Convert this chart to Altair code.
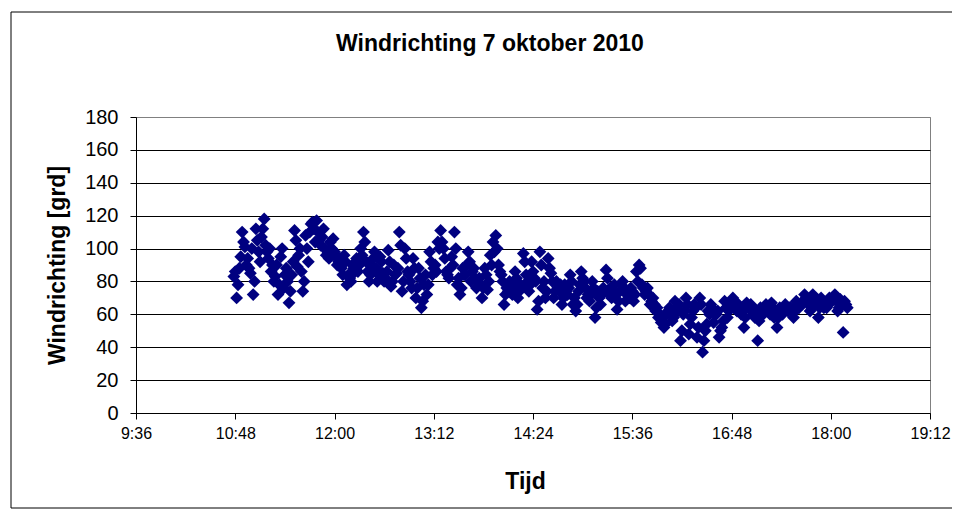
import altair as alt
import pandas as pd

title_text = "Windrichting 7 oktober 2010"
x_title = "Tijd"
y_title = "Windrichting [grd]"

# readings every minute: even series starts 10:47, odd series starts 10:48, each every 2 minutes
start_even = 10 * 60 + 47
start_odd = 10 * 60 + 48
step_minutes = 2

v_1047 = [83, 70, 88, 110, 101, 94, 85, 72, 112, 98, 107, 118, 98, 100, 90,
          83, 72, 95, 76, 88, 67, 84, 111, 89, 100, 74, 108, 92, 115, 112]
v_1147 = [117, 105, 107, 100, 98, 104, 106, 95, 92, 88, 96, 78, 82, 90, 86,
          86, 100, 110, 92, 80, 90, 98, 80, 95, 85, 82, 99, 77, 90, 85]
v_1247 = [110, 74, 100, 86, 80, 94, 70, 88, 64, 78, 72, 98, 84, 90, 104,
          111, 100, 86, 82, 95, 110, 78, 72, 88, 84, 98, 80, 88, 76, 82]
v_1347 = [70, 88, 75, 96, 104, 108, 90, 84, 66, 76, 80, 72, 86, 70, 78,
          97, 84, 74, 92, 82, 63, 98, 76, 70, 94, 85, 70, 80, 74, 66]
v_1447 = [78, 72, 84, 66, 62, 74, 86, 80, 70, 68, 80, 58, 74, 66, 76,
          87, 73, 70, 78, 63, 74, 80, 68, 72, 76, 68, 86, 90, 78, 72]
v_1547 = [76, 66, 70, 62, 58, 55, 52, 60, 64, 56, 68, 62, 44, 60, 70,
          48, 58, 66, 46, 70, 37, 50, 62, 66, 55, 60, 46, 52, 68, 58]
v_1647 = [64, 70, 63, 66, 60, 52, 67, 64, 62, 58, 44, 64, 60, 66, 62,
          67, 58, 52, 64, 60, 66, 62, 64, 58, 68, 64, 66, 72, 68, 62]
v_1747 = [72, 66, 58, 70, 64, 64, 70, 68, 72, 62, 69, 49, 66]

w_1048 = [86, 78, 95, 104, 90, 88, 100, 80, 105, 92, 112, 102, 94, 86, 80,
          90, 78, 100, 84, 80, 74, 92, 105, 96, 86, 80, 100, 110, 116, 104]
w_1148 = [110, 102, 112, 96, 94, 100, 98, 90, 94, 84, 92, 84, 80, 88, 94,
          90, 96, 104, 86, 84, 94, 88, 84, 92, 80, 86, 92, 80, 84, 88]
w_1248 = [102, 80, 94, 84, 76, 88, 76, 82, 68, 84, 78, 92, 88, 86, 100,
          104, 94, 84, 88, 90, 100, 82, 76, 84, 90, 92, 86, 82, 80, 78]
w_1348 = [76, 84, 80, 90, 98, 100, 86, 80, 72, 74, 76, 78, 82, 74, 76,
          92, 80, 78, 86, 80, 68, 90, 80, 74, 88, 80, 74, 76, 78, 70]
w_1448 = [74, 76, 80, 70, 66, 78, 82, 76, 72, 72, 76, 64, 70, 72, 74,
          82, 76, 74, 72, 68, 78, 76, 72, 70, 74, 72, 80, 88, 76, 74]
w_1548 = [72, 68, 66, 64, 60, 58, 54, 62, 60, 58, 64, 66, 50, 62, 66,
          54, 62, 64, 52, 66, 44, 54, 60, 64, 60, 62, 50, 56, 64, 62]
w_1648 = [66, 68, 62, 64, 62, 58, 64, 66, 60, 62, 56, 62, 64, 64, 60,
          64, 62, 58, 62, 62, 64, 64, 62, 62, 66, 66, 68, 70, 66, 64]
w_1748 = [70, 68, 64, 68, 66, 66, 68, 70, 68, 64, 66, 68, 64]

values_even = v_1047 + v_1147 + v_1247 + v_1347 + v_1447 + v_1547 + v_1647 + v_1747
values_odd = w_1048 + w_1148 + w_1248 + w_1348 + w_1448 + w_1548 + w_1648 + w_1748
minutes = ([start_even + step_minutes * i for i in range(len(values_even))]
           + [start_odd + step_minutes * i for i in range(len(values_odd))])
df = pd.DataFrame({"minute": minutes, "richting": values_even + values_odd})

x_ticks = [576, 648, 720, 792, 864, 936, 1008, 1080, 1152]
y_ticks = [0, 20, 40, 60, 80, 100, 120, 140, 160, 180]

label_expr = ("floor(datum.value / 60) + ':' + "
              "((datum.value % 60) < 10 ? '0' : '') + (datum.value % 60)")

FONT = "Liberation Sans"

title_df = pd.DataFrame({"t": [title_text]})

border = alt.Chart(title_df).mark_rect(
    fill="transparent", stroke="black", strokeWidth=1
).encode(
    x=alt.value(-125), x2=alt.value(822), y=alt.value(-105), y2=alt.value(391)
)

points = alt.Chart(df).mark_point(
    shape="diamond", filled=True, size=165, color="#000080", opacity=1, strokeWidth=0
).encode(
    x=alt.X("minute:Q",
            scale=alt.Scale(domain=[576, 1152], nice=False, zero=False),
            axis=alt.Axis(values=x_ticks, labelExpr=label_expr, title=x_title,
                          grid=False, labelFontSize=16, labelPadding=6, tickSize=6,
                          labelFlush=False, labelOverlap=False,
                          titleFontSize=23, titleFontWeight="bold",
                          titleX=389, titleY=68, titleBaseline="middle",
                          titleAlign="center")),
    y=alt.Y("richting:Q",
            scale=alt.Scale(domain=[0, 180], nice=False),
            axis=alt.Axis(values=y_ticks, title=y_title, grid=True,
                          gridColor={"condition": {"test": "datum.value >= 180", "value": "#808080"},
                                     "value": "black"},
                          labelFontSize=20, labelPadding=12, tickSize=6,
                          labelFlush=False, labelOverlap=False,
                          titleFontSize=23, titleFontWeight="bold",
                          titleX=-79, titleY=148, titleAngle=270,
                          titleBaseline="middle", titleAlign="center")),
)

title = alt.Chart(title_df).mark_text(
    font=FONT, fontSize=23, fontWeight="bold", color="black",
    align="center", baseline="middle"
).encode(x=alt.value(354), y=alt.value(-73), text="t:N")

chart = alt.layer(border, points, title).properties(
    width=794, height=296,
    padding={"left": 128, "top": 109, "right": 22, "bottom": 96},
    autosize=alt.AutoSizeParams(type="none"),
).configure_view(
    stroke="#808080", strokeWidth=1
).configure_axis(
    domainColor="black", tickColor="black", labelColor="black", titleColor="black",
    labelFont=FONT, titleFont=FONT, domainWidth=1, tickWidth=1, gridWidth=1
)

chart.save("out.html", embed_options={"renderer": "svg", "actions": False})
